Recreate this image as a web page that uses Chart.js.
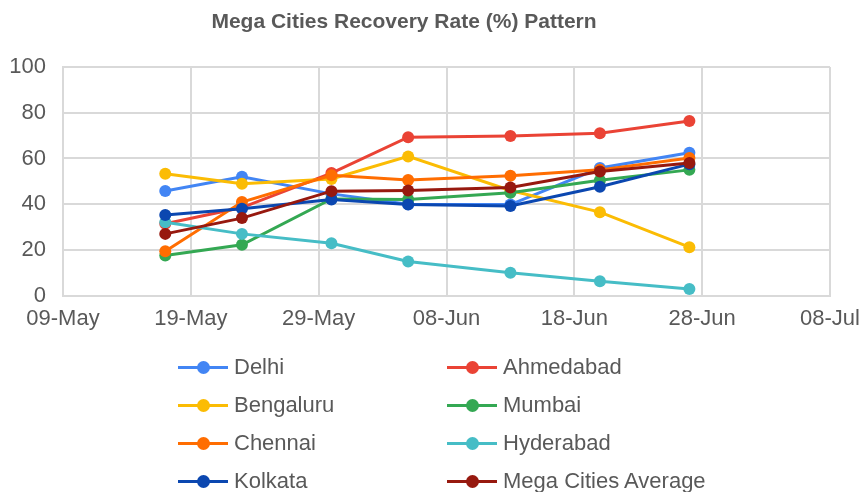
<!DOCTYPE html>
<html lang="en">
<head>
    <meta charset="UTF-8">
    <title>Mega Cities Recovery Rate</title>
    <script src="https://cdn.jsdelivr.net/npm/chart.js"></script>
    <style>
        body {
            margin: 0;
            padding: 0;
            background: #ffffff;
            font-family: "Liberation Sans", Arial, sans-serif;
        }

        .wrap {
            position: relative;
            width: 866px;
            height: 492px;
            overflow: hidden;
        }

        #legend {
            position: absolute;
            left: 178px;
            top: 348px;
            display: grid;
            grid-template-columns: 269px 320px;
            grid-auto-rows: 38px;
            color: #595959;
            font-size: 22px;
        }

        .item {
            display: flex;
            align-items: center;
            white-space: nowrap;
        }

        .mark {
            position: relative;
            width: 50px;
            height: 13px;
            margin-right: 6px;
        }

        .mark .ln {
            position: absolute;
            left: 0;
            top: 5px;
            width: 50px;
            height: 3px;
        }

        .mark .dot {
            position: absolute;
            left: 18.5px;
            top: 0;
            width: 13px;
            height: 13px;
            border-radius: 50%;
        }
    </style>
</head>
<body>
    <div class="wrap">
        <canvas id="chart" width="866" height="492"></canvas>
        <div id="legend"></div>
    </div>

    <script>
        const titleText = 'Mega Cities Recovery Rate (%) Pattern';

        // dates of each reading (2020), x axis runs 09-May .. 08-Jul
        const dates = ['17-May', '23-May', '30-May', '05-Jun', '13-Jun', '20-Jun', '27-Jun'];
        const tickLabels = ['09-May', '19-May', '29-May', '08-Jun', '18-Jun', '28-Jun', '08-Jul'];

        const cities = ['Delhi', 'Ahmedabad', 'Bengaluru', 'Mumbai', 'Chennai', 'Hyderabad', 'Kolkata', 'Mega Cities Average'];
        const colors = ['#4285F4', '#EA4335', '#FBBC04', '#34A853', '#FF6D01', '#46BDC6', '#0B47B0', '#97190F'];

        const delhi     = [45.8, 52.0, 44.5, 40.0, 39.8, 55.8, 62.5];
        const ahmedabad = [31.4, 38.5, 53.6, 69.3, 69.8, 71.0, 76.4];
        const bengaluru = [53.3, 48.9, 51.0, 60.9, 46.0, 36.5, 21.2];
        const mumbai    = [17.5, 22.2, 42.3, 42.0, 45.0, 50.5, 55.0];
        const chennai   = [19.4, 40.9, 52.6, 50.6, 52.4, 55.0, 60.2];
        const hyderabad = [32.1, 27.0, 22.9, 14.9, 10.0, 6.3, 2.9];
        const kolkata   = [35.3, 38.0, 42.0, 39.9, 39.2, 47.6, 57.5];
        const average   = [27.0, 33.9, 45.7, 46.0, 47.3, 54.3, 58.0];

        const series = [delhi, ahmedabad, bengaluru, mumbai, chennai, hyderabad, kolkata, average];

        const months = { May: 4, Jun: 5, Jul: 6 };
        const start = Date.UTC(2020, 4, 9);

        function dayOf(label) {
            const [d, m] = label.split('-');
            return Math.round((Date.UTC(2020, months[m], parseInt(d, 10)) - start) / 86400000);
        }

        const xs = dates.map(dayOf);
        const tickDays = tickLabels.map(dayOf);

        const datasets = cities.map((name, i) => ({
            label: name,
            data: series[i].map((v, j) => ({ x: xs[j], y: v })),
            borderColor: colors[i],
            backgroundColor: colors[i],
            borderWidth: 3,
            pointRadius: 6,
            pointHoverRadius: 6,
            pointBorderWidth: 0,
            order: cities.length - i
        }));

        const grey = '#595959';
        const gridColor = '#d9d9d9';
        const fontFamily = '"Liberation Sans", Arial, sans-serif';

        // title sits a little left of the canvas centre in the original
        const heading = {
            id: 'heading',
            afterDraw(chart) {
                const ctx = chart.ctx;
                ctx.save();
                ctx.font = `bold 21px ${fontFamily}`;
                ctx.fillStyle = grey;
                ctx.textAlign = 'center';
                ctx.textBaseline = 'middle';
                ctx.fillText(titleText, 404, 22);
                ctx.restore();
            }
        };

        new Chart(document.getElementById('chart'), {
            type: 'line',
            data: { datasets: datasets },
            plugins: [heading],
            options: {
                responsive: false,
                animation: false,
                layout: { padding: { left: 0, right: 0, top: 67, bottom: 150 } },
                plugins: {
                    legend: { display: false },
                    tooltip: { enabled: false },
                    title: { display: false }
                },
                scales: {
                    x: {
                        type: 'linear',
                        min: tickDays[0],
                        max: tickDays[tickDays.length - 1],
                        afterBuildTicks: axis => {
                            axis.ticks = tickDays.map(v => ({ value: v }));
                        },
                        afterFit: axis => {
                            axis.paddingLeft = 0;
                            axis.paddingRight = 36;
                        },
                        ticks: {
                            color: grey,
                            padding: 10,
                            maxRotation: 0,
                            font: { family: fontFamily, size: 22 },
                            callback: v => tickLabels[tickDays.indexOf(v)]
                        },
                        grid: { color: gridColor, lineWidth: 2, drawTicks: false },
                        border: { color: gridColor, width: 2 }
                    },
                    y: {
                        min: 0,
                        max: 100,
                        afterFit: axis => {
                            axis.width = 63;
                        },
                        ticks: {
                            stepSize: 20,
                            color: grey,
                            padding: 17,
                            font: { family: fontFamily, size: 22 }
                        },
                        grid: { color: gridColor, lineWidth: 2, drawTicks: false },
                        border: { color: gridColor, width: 2 }
                    }
                }
            }
        });

        // two-column legend under the plot
        const legend = document.getElementById('legend');
        cities.forEach((name, i) => {
            const item = document.createElement('div');
            item.className = 'item';
            item.innerHTML = `
                <span class="mark"><span class="ln" style="background:${colors[i]}"></span><span class="dot" style="background:${colors[i]}"></span></span>
                <span>${name}</span>`;
            legend.appendChild(item);
        });
    </script>
</body>
</html>
